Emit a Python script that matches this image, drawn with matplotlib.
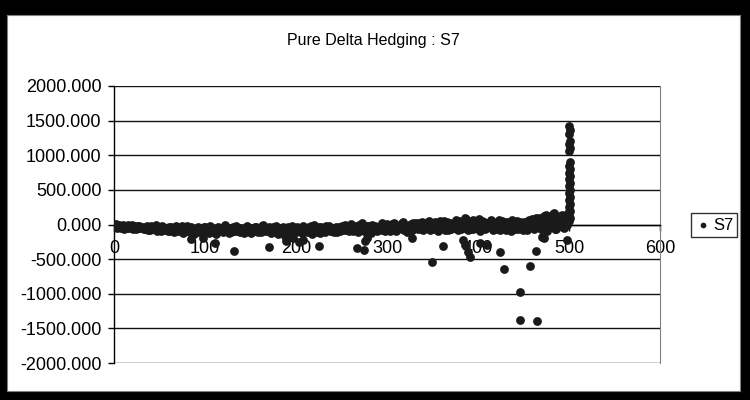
import numpy as np
import matplotlib
matplotlib.use("Agg")
import matplotlib.pyplot as plt
from matplotlib.ticker import FuncFormatter, MultipleLocator

# Daily hedging P&L for scenario S7, even days
even_day_pnl = [
    -10, 5, -30, -15, -45, -5, -25, -55, -20, -40, 0, -35, -60, -15, -50, -30,
    -45, -70, -20, -55, -85, -35, -65, -10, -75, -50, -95, -30, -60, -80, -40,
    -90, -55, -110, -25, -70, -100, -45, -120, -65, -15, -85, -105, -50, -130, -75, -30, -95, -60, -115,
    -40, -80, -125, -20, -100, -60, -135, -35, -90, -70, -110, -10, -85, -120, -50, -75,
    -95, -25, -65, -115, -45, -80, -105, -15, -70, -125, -55, -90, -30, -110, -60, -85, -5, -100, -75, -40,
    -120, -55, -95, -20, -140, -70, -105, -35, -160, -85, -50, -130, -15, -90, -115, -45, -75, -100, -25, -65,
    -110, -40, -80, -130, -10, -95, -60, -120, -30, -85, -105, -50, -15, -90, -70, -115, -35, -60, -100, -20,
    -75, -5, -55, -95, 10, -40, -80, -25, -110, -60, 15, -45, -90, -15, -70, -120, 0, -50, -85, -30,
    -65, 20, -40, -100, 5, -75, -20, -55, 25, -90, -35, -10, -70, 30, -50, -115, -25, 10, -80, -45,
    15, -60, -20, 40, -85, -5, -45, 55, -30, -70, 20, -15, -95, 45, -50, 0, -75, 35, -25, -60,
    10, -40, 60, -80, -15, 35, -55, 90, -30, 5, -70, 70, -20, -50, 25, -90, 50, -10, -65, 15,
    -35, 65, -75, 20, -45, 5, -85, 45, -25, -60, 30, -10, -95, 55, -40, 15, -70, 40, -20, -55,
    25, -80, 60, -35, 10, -65, 90, -15, 40, -50, 120, 0, -90, 75, -30, 150, 20, -60, 110, -20,
    140, -45, 95, -10,
]

# Daily hedging P&L for scenario S7, odd days
odd_day_pnl = [
    -25, -50, -5, -40, -20, -60, -35, -10, -50, -30, -65, -15, -45, -25, -55, -40,
    -60, -30, -80, -45, -20, -70, -50, -90, -35, -60, -25, -75, -50, -100, -65,
    -40, -80, -60, -100, -45, -85, -20, -70, -95, -55, -110, -35, -75, -90, -50, -105, -65, -85, -40,
    -95, -60, -75, -105, -45, -85, -110, -55, -70, -100, -40, -90, -65, -95, -115, -30,
    -70, -100, -45, -85, -60, -120, -35, -90, -55, -75, -100, -40, -80, -65, -110, -20, -85, -55, -95, -70,
    -80, -30, -110, -60, -85, -50, -120, -75, -95, -40, -105, -70, -55, -100, -30, -85, -65, -120, -50, -90,
    -60, -95, -25, -75, -50, -110, -40, -85, -65, -100, -20, -70, -55, -95, -45, -80, -110, -30, -75, -55,
    -45, -85, -30, -65, -15, -90, -50, -70, -5, -80, -35, -100, -55, -25, -85, -45, -65, -20, -95, -60,
    -20, -80, -5, -55, -35, -90, 10, -60, -40, -70, -15, -50, 15, -85, -30, -60, -5, -75, 20, -40,
    -35, 25, -70, 5, -50, -20, 30, -80, -10, -45, 40, -65, -25, 10, -55, 50, -30, -75, 15, -40,
    -55, 20, -30, 45, -65, 0, -40, 75, -85, 25, -20, -60, 40, -35, 80, -70, -5, 30, -45, -15,
    10, -55, 40, -25, -70, 60, -40, -5, 35, -80, 20, -50, 70, -15, -65, 45, -30, 5, -75, 30,
    -40, 45, -15, 80, -55, 25, -30, 100, -70, 55, -10, 130, -45, 85, -25, 160, -60, 120, 30, 90,
    -30, 115, 40, 160,
]

even_days = np.arange(len(even_day_pnl)) * 2
odd_days = np.arange(len(odd_day_pnl)) * 2 + 1

# Large losses on individual days
tail_days = [85, 98, 111, 132, 170, 189, 197, 203, 208, 225, 267, 275, 276, 278,
             328, 349, 361, 384, 386, 389, 391, 402, 410, 424, 429, 446, 446,
             457, 464, 465, 470, 473, 498]
tail_pnl = [-203, -190, -260, -377, -319, -232, -200, -250, -230, -304, -333, -362, -240, -190,
            -188, -536, -304, -220, -300, -400, -465, -260, -300, -391, -645, -980, -1377,
            -594, -377, -1392, -174, -188, -217]

# Final days before expiry
expiry_days = [500, 501, 500, 501, 500, 501, 500, 501, 500, 501, 500, 501, 500,
               501, 500, 501, 500, 501, 500, 501, 500, 501, 500, 501, 500]
expiry_pnl = [1420, 1363, 1300, 1203, 1160, 1100, 1058, 899, 850, 800, 750, 700, 650,
              600, 550, 500, 450, 400, 350, 300, 250, 200, 150, 100, 50]

x_all = np.concatenate([even_days, odd_days, tail_days, expiry_days])
y_all = np.concatenate([even_day_pnl, odd_day_pnl, tail_pnl, expiry_pnl])

plt.rcParams["font.family"] = ["Liberation Sans", "DejaVu Sans"]

fig = plt.figure(figsize=(7.5, 4.0), dpi=100)
fig.patch.set_facecolor("black")

# white chart area inside the black frame
bg = fig.add_axes([7 / 750, 9 / 400, 733 / 750, 376 / 400], zorder=-5)
bg.set_xticks([])
bg.set_yticks([])
for s in bg.spines.values():
    s.set_color("#808080")
    s.set_linewidth(0.8)
bg.set_facecolor("white")

ax = fig.add_axes([114 / 750, 1 - 363 / 400, 546 / 750, 277 / 400])
ax.set_facecolor("white")

ax.scatter(x_all, y_all, s=40, marker="o", color="#1a1a1a", linewidths=0,
           label="S7", zorder=3)

ax.set_xlim(0, 600)
ax.set_ylim(-2000, 2000)
ax.yaxis.set_major_locator(MultipleLocator(500))
ax.xaxis.set_major_locator(MultipleLocator(100))
ax.yaxis.set_major_formatter(FuncFormatter(lambda v, p: f"{v:.3f}"))
ax.grid(axis="y", color="#111111", linewidth=1.0, zorder=1)

# x axis crosses at zero
ax.spines["bottom"].set_position(("data", 0))
ax.spines["bottom"].set_color("black")
ax.spines["bottom"].set_linewidth(1.0)
ax.spines["left"].set_color("black")
ax.spines["left"].set_linewidth(1.0)
ax.spines["right"].set_color("#808080")
ax.spines["top"].set_visible(False)

ax.tick_params(axis="y", direction="out", length=4, width=1, labelsize=13,
               pad=5, colors="black")
ax.tick_params(axis="x", direction="out", length=4, width=1, labelsize=13,
               pad=7, colors="black")

fig.text(373 / 750, 1 - 40 / 400, "Pure Delta Hedging : S7", ha="center",
         va="center", fontsize=11.5)

leg = fig.legend(loc="center", bbox_to_anchor=(714 / 750, 1 - 225 / 400),
                 frameon=True, fancybox=False, fontsize=12, handletextpad=0.1,
                 borderpad=0.25, handlelength=1.0, markerscale=0.65)
leg.get_frame().set_edgecolor("black")
leg.get_frame().set_linewidth(1.0)

fig.savefig("out.png", dpi=100, facecolor=fig.get_facecolor())
